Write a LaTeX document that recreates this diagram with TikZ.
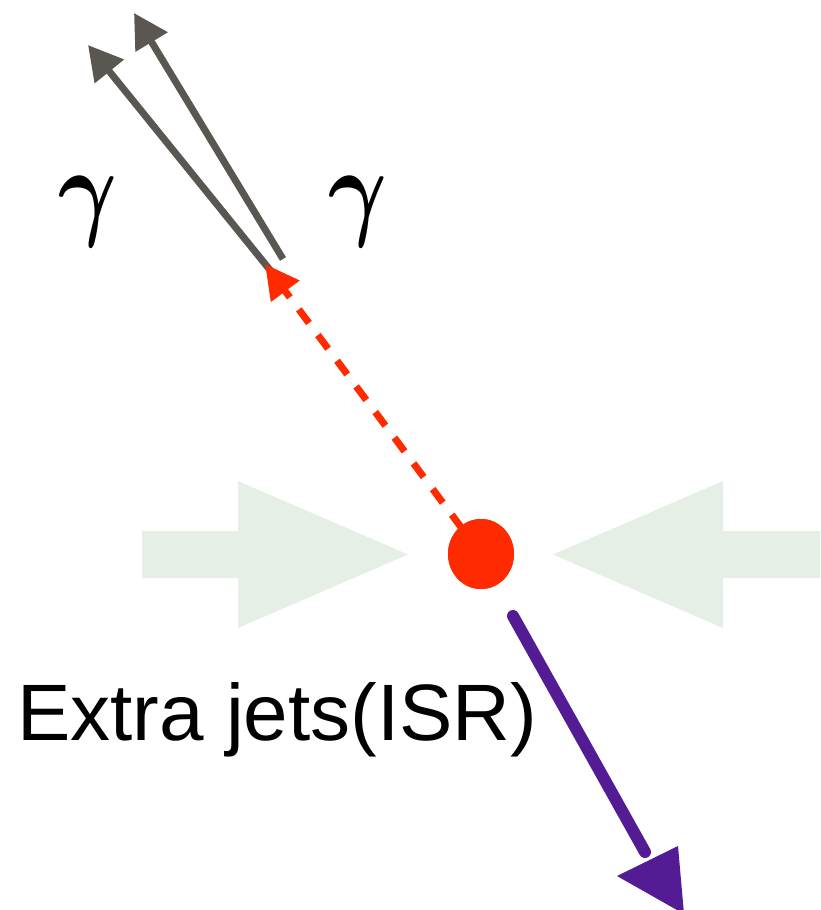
\documentclass[tikz,border=0pt]{standalone}
\usepackage{graphicx}
\usepackage{fontspec}
\setsansfont{Liberation Sans}
\usetikzlibrary{arrows.meta,shapes.geometric}
\definecolor{beamgreen}{HTML}{E5EFE6}
\definecolor{photongray}{HTML}{5A5752}
\definecolor{higgsred}{HTML}{FF2A00}
\definecolor{jetpurple}{HTML}{531C94}
\tikzset{
  beamarrow/.style={fill=beamgreen,draw=none},
  photon/.style={draw=photongray,line width=7pt,-{Triangle[length=34pt,width=36pt]}},
  higgsline/.style={draw=higgsred,line width=7pt,dash pattern=on 17pt off 15pt,-{Triangle[length=34pt,width=34pt]}},
  vertexdot/.style={ellipse,fill=higgsred,inner sep=0pt,minimum width=66pt,minimum height=70pt},
  jetline/.style={draw=jetpurple,line width=12pt,line cap=round},
  jethead/.style={fill=jetpurple,draw=none},
  gammalabel/.style={inner sep=0pt},
  textlabel/.style={inner sep=0pt,anchor=base west,font=\sffamily\fontsize{80}{80}\selectfont}
}
\begin{document}
\begin{tikzpicture}[x=1pt,y=-1pt]
\useasboundingbox (0,0) rectangle (820,910);
% beam arrows
\fill[beamarrow] (142,531) -- (238,531) -- (238,481) -- (408,554.5) -- (238,628) -- (238,578) -- (142,578) -- cycle;
\fill[beamarrow] (820,531) -- (723,531) -- (723,481) -- (553,554.5) -- (723,628) -- (723,578) -- (820,578) -- cycle;
% coordinates
\coordinate (htip) at (265,264);
\coordinate (g1s) at (270,270);
\coordinate (g1e) at (88,45);
\coordinate (g2s) at (283,259);
\coordinate (g2e) at (134,13);
\coordinate (js) at (513,616);
\coordinate (je) at (645,852);
% photons
\draw[photon] (g1s) -- (g1e);
\draw[photon] (g2s) -- (g2e);
% vertex
\node[vertexdot] (v) at (481,554) {};
\draw[higgsline] (v.center) -- (htip);
\node[vertexdot] at (481,554) {};
% jet
\draw[jetline] (js) -- (je);
\fill[jethead] (617,876) -- (678,846) -- (684,914) -- cycle;
% labels
\node[gammalabel] (gl) at (88,212) {\scalebox{9}[11]{\boldmath$\gamma$}};
\node[gammalabel] (gr) at (358,212) {\scalebox{9}[11]{\boldmath$\gamma$}};
\node[textlabel] (isr) at (17,740) {Extra jets(ISR)};
\end{tikzpicture}
\end{document}
